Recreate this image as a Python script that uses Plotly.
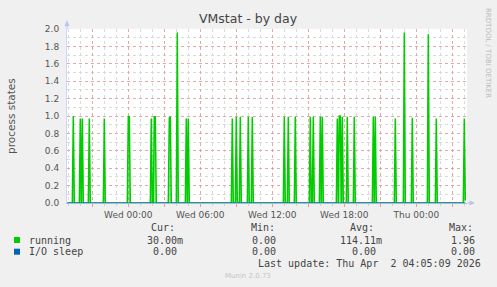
import plotly.graph_objects as go
import pandas as pd

# ---------------- data ----------------
# minutes relative to Wed 2026-04-01 00:00 (5-minute samples)
spike_minutes = [-275, -240, -230, -195, -120, 0, 5, 115, 130, 135, 205, 210, 245,
                 290, 300, 520, 540, 560, 600, 620, 780, 800, 835, 910, 925, 960,
                 970, 1045, 1055, 1060, 1070, 1095, 1130, 1225, 1235, 1335, 1380,
                 1420, 1500, 1540, 1680, 1685]
spike_values = [1.00, 0.97, 0.97, 0.97, 0.97, 0.99, 1.00, 0.97, 0.99, 0.99, 0.98, 0.99, 1.96,
                0.97, 0.97, 0.97, 0.99, 0.99, 0.99, 0.99, 0.99, 0.99, 0.99, 0.99, 0.99, 0.99,
                0.99, 0.97, 1.00, 1.00, 0.99, 0.99, 0.99, 0.99, 0.99, 0.97, 1.96,
                0.98, 1.94, 0.97, 0.97, 0.03]
first_sample, last_sample, step = -305, 1685, 5

tick_hours = [-3, 0, 3, 6, 9, 12, 15, 18, 21, 24, 27]
tick_labels = ["", "Wed 00:00", "", "Wed 06:00", "", "Wed 12:00", "", "Wed 18:00", "",
               "Thu 00:00", ""]
y_ticks = [0.0, 0.2, 0.4, 0.6, 0.8, 1.0, 1.2, 1.4, 1.6, 1.8, 2.0]

legend_names = ["running", "I/O sleep"]
legend_colors = ["#00CC00", "#0066B3"]
legend_cur = ["30.00m", "0.00"]
legend_min = ["0.00", "0.00"]
legend_avg = ["114.11m", "0.00"]
legend_max = ["1.96", "0.00"]

# ---------------- build series ----------------
base = pd.Timestamp("2026-04-01 00:00")
lookup = dict(zip(spike_minutes, spike_values))
mins = list(range(first_sample, last_sample + 1, step))
xs = [base + pd.Timedelta(minutes=m) for m in mins]
running = [lookup.get(m, 0.0) for m in mins]
iosleep = [0.0 for m in mins]

# ---------------- layout geometry ----------------
W, H = 497, 287
L, R, T, B = 67, 467, 29, 203

def px(x):
    return (x - L) / (R - L)

def py(y):
    return (B - y) / (B - T)

x_start = base - pd.Timedelta(minutes=306.5)
x_end = x_start + pd.Timedelta(minutes=2000)

fig = go.Figure()
fig.add_trace(go.Scatter(x=xs, y=running, mode="lines",
                         line=dict(color="#00CC00", width=1.5),
                         fill="tozeroy", fillcolor="rgba(0,204,0,0.35)",
                         name="running", hoverinfo="skip"))
fig.add_trace(go.Scatter(x=xs, y=iosleep, mode="lines",
                         line=dict(color="#0066B3", width=1),
                         name="I/O sleep", hoverinfo="skip"))

major_grid = "rgba(235,130,130,0.55)"
minor_grid = "#DADADA"

fig.update_layout(
    width=W, height=H,
    margin=dict(l=L, r=W - R, t=T, b=H - B, pad=0),
    paper_bgcolor="#F0F0F0", plot_bgcolor="#FFFFFF",
    showlegend=False,
    xaxis=dict(
        type="date", range=[x_start, x_end],
        tickvals=[base + pd.Timedelta(hours=h) for h in tick_hours],
        ticktext=tick_labels,
        showgrid=True, gridcolor=major_grid, griddash="dot", gridwidth=1,
        minor=dict(dtick=3600000, tick0=base, showgrid=True, gridcolor=minor_grid,
                   griddash="dot", gridwidth=1, ticks="outside", ticklen=2, tickcolor="#D0D0D0"),
        showline=True, linecolor="#A9B5E8", linewidth=1,
        ticks="outside", ticklen=3, tickcolor="#EC9A9A",
        tickfont=dict(family="DejaVu Sans", size=9, color="#555555"),
        zeroline=False, layer="above traces", fixedrange=True,
    ),
    yaxis=dict(
        range=[0, 2.0], tickvals=y_ticks, ticktext=["%.1f" % v for v in y_ticks],
        showgrid=True, gridcolor=major_grid, griddash="dot", gridwidth=1,
        minor=dict(dtick=0.1, tick0=0, showgrid=True, gridcolor=minor_grid,
                   griddash="dot", gridwidth=1),
        showline=True, linecolor="#CFD6F8", linewidth=1,
        ticks="", ticklabelstandoff=5,
        tickfont=dict(family="DejaVu Sans", size=9, color="#555555"),
        zeroline=False, layer="above traces", fixedrange=True,
    ),
)

anns = []
def ann(text, x, y, xanchor="left", size=10, color="#444444",
        family="DejaVu Sans Mono", angle=0):
    anns.append(dict(text=text, x=px(x), y=py(y), xref="paper", yref="paper",
                     xanchor=xanchor, yanchor="middle", showarrow=False,
                     textangle=angle, font=dict(family=family, size=size, color=color)))

ann("VMstat - by day", 248.5, 19, xanchor="center", size=12.5,
    color="#444444", family="DejaVu Sans")
ann("process states", 11, 116, xanchor="center", size=10.5,
    color="#555555", family="DejaVu Sans", angle=-90)
ann("RRDTOOL / TOBI OETIKER", 488, 53, xanchor="center", size=7,
    color="#BBBBBB", family="DejaVu Sans", angle=90)

ann("Cur:", 149.3, 227.7)
ann("Min:", 249.0, 227.7)
ann("Avg:", 348.3, 227.7)
ann("Max:", 446.7, 227.7)
row_y = [240.0, 251.7]
for i in range(2):
    ann(legend_names[i], 26.7, row_y[i])
    ann(legend_cur[i] if legend_cur[i].endswith("m") else legend_cur[i] + "\u00a0", 185, row_y[i], xanchor="right")
    ann(legend_min[i] + "\u00a0", 284, row_y[i], xanchor="right")
    ann(legend_avg[i] if legend_avg[i].endswith("m") else legend_avg[i] + "\u00a0", 384, row_y[i], xanchor="right")
    ann(legend_max[i], 477, row_y[i], xanchor="right")
ann("Last update: Thu Apr\u00a0\u00a02 04:05:09 2026", 483, 263.3, xanchor="right")
ann("Munin 2.0.73", 248, 276.3, xanchor="center", size=7, color="#C4C4C4",
    family="DejaVu Sans")

shapes = []
for i in range(2):
    shapes.append(dict(type="rect", xref="paper", yref="paper",
                       x0=px(14), x1=px(20), y0=py(row_y[i] + 3), y1=py(row_y[i] - 3),
                       fillcolor=legend_colors[i], line=dict(width=0)))
arrow_col = "#B9C4F0"
# y axis extension + arrow
shapes.append(dict(type="line", xref="paper", yref="paper",
                   x0=px(L), x1=px(L), y0=py(T), y1=py(24), line=dict(color=arrow_col, width=1)))
shapes.append(dict(type="path", xref="paper", yref="paper",
                   path="M %f %f L %f %f L %f %f Z" % (px(L), py(20), px(L - 2.5), py(26), px(L + 2.5), py(26)),
                   fillcolor=arrow_col, line=dict(width=0)))
# x axis extension + arrow
shapes.append(dict(type="line", xref="paper", yref="paper",
                   x0=px(R), x1=px(471), y0=py(B), y1=py(B), line=dict(color=arrow_col, width=1)))
shapes.append(dict(type="path", xref="paper", yref="paper",
                   path="M %f %f L %f %f L %f %f Z" % (px(475), py(B), px(469.5), py(B - 2.5), px(469.5), py(B + 2.5)),
                   fillcolor=arrow_col, line=dict(width=0)))

fig.update_layout(annotations=anns, shapes=shapes)
fig.write_html("out.html", config={"displayModeBar": False})
